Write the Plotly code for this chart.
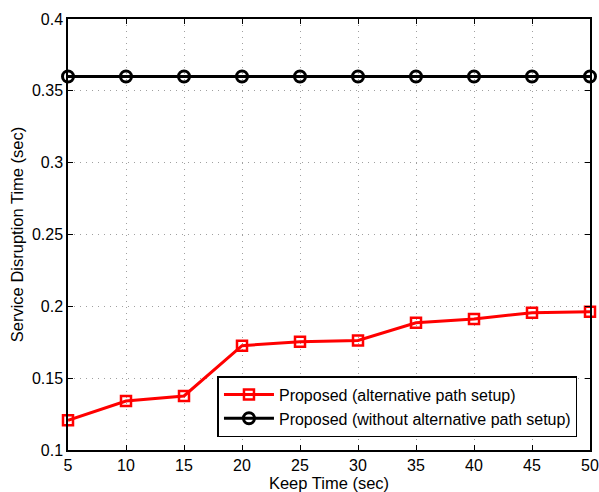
import plotly.graph_objects as go

keep_time = [5, 10, 15, 20, 25, 30, 35, 40, 45, 50]
alt_path = [0.1207, 0.1341, 0.1376, 0.1726, 0.1754, 0.1763, 0.1886, 0.1912, 0.1956, 0.1963]
no_alt_path = [0.36, 0.36, 0.36, 0.36, 0.36, 0.36, 0.36, 0.36, 0.36, 0.36]
x_ticks = [5, 10, 15, 20, 25, 30, 35, 40, 45, 50]
y_ticks = [0.1, 0.15, 0.2, 0.25, 0.3, 0.35, 0.4]
y_tick_text = ["0.1", "0.15", "0.2", "0.25", "0.3", "0.35", "0.4"]

fig = go.Figure()
fig.add_trace(go.Scatter(
    x=keep_time, y=alt_path, mode="lines+markers",
    name="Proposed (alternative path setup)",
    line=dict(color="#ff0000", width=3),
    marker=dict(symbol="square-open", size=10, color="#ff0000", line=dict(width=2.5)),
    cliponaxis=False,
))
fig.add_trace(go.Scatter(
    x=keep_time, y=no_alt_path, mode="lines+markers",
    name="Proposed (without alternative path setup)",
    line=dict(color="#000000", width=3),
    marker=dict(symbol="circle-open", size=11, color="#000000", line=dict(width=3)),
    cliponaxis=False,
))

axis_common = dict(
    showline=True, linecolor="black", linewidth=1.5, mirror="allticks",
    ticks="inside", ticklen=5, tickcolor="black",
    showgrid=True, gridcolor="#a0a0a0", griddash="1px,5px", gridwidth=1,
    zeroline=False, automargin=False,
    tickfont=dict(family="Liberation Sans, Arial, sans-serif", size=16, color="black"),
)

fig.update_layout(
    width=599, height=492,
    margin=dict(l=68, r=9, t=19, b=42),
    paper_bgcolor="white", plot_bgcolor="white",
    font=dict(family="Liberation Sans, Arial, sans-serif", size=16, color="black"),
    xaxis=dict(range=[5, 50], tickvals=x_ticks,
               title=dict(text="Keep Time (sec)", standoff=0, font=dict(size=16.5)),
               **axis_common),
    yaxis=dict(range=[0.1, 0.4], tickvals=y_ticks, ticktext=y_tick_text,
               title=dict(text="Service Disruption Time (sec)", standoff=4, font=dict(size=16.5)),
               **axis_common),
    legend=dict(x=0.976, y=0.03, xanchor="right", yanchor="bottom",
                bgcolor="white", bordercolor="black", borderwidth=1.5,
                font=dict(size=16), itemwidth=50, tracegroupgap=0),
    showlegend=True,
)

fig.write_html("out.html", config={"displayModeBar": False},
               post_script="document.body.style.margin='0';document.body.style.overflow='hidden';")
